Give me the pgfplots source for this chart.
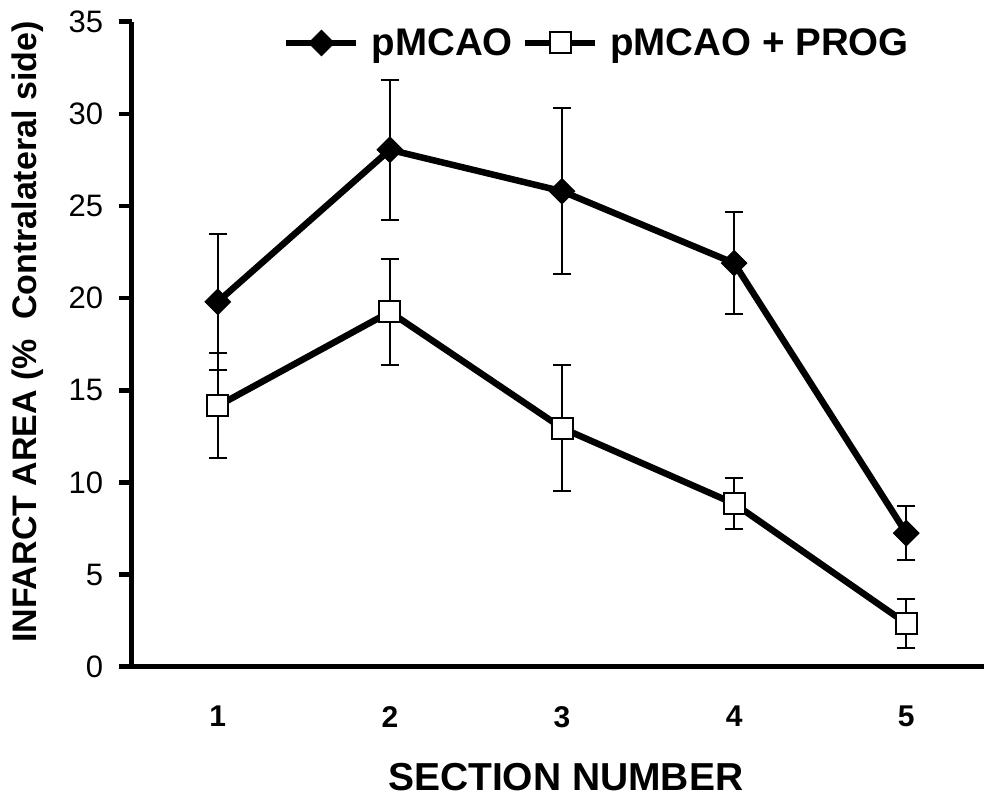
\documentclass[border=0pt]{standalone}
\usepackage{fontspec}
\setmainfont{Liberation Sans}
\usepackage{pgfplots}
\pgfplotsset{compat=1.18}
\newcommand\fs[1]{\fontsize{#1}{#1}\selectfont}
\begin{document}
\begin{tikzpicture}
\begin{axis}[
    at={(131.7bp,130.3bp)}, anchor=south west,
    scale only axis, width=852bp, height=645bp,
    xmin=0.5, xmax=5.45, ymin=0, ymax=35,
    clip=false,
    axis x line=bottom, axis y line=left,
    axis line style={-, line width=5.5bp},
    xtick={1,2,3,4,5}, ytick={0,5,...,35},
    x tick style={draw=none},
    y tick style={line width=4.5bp, black},
    tick align=outside, major tick length=13bp,
    /pgf/number format/assume math mode=true,
    yticklabel style={font=\fs{31bp}, xshift=-12bp},
    xticklabel style={font=\bfseries\fs{30bp}, yshift=-23bp},
    xlabel={SECTION NUMBER},
    xlabel style={font=\bfseries\fs{39bp}, at={([xshift=8bp,yshift=-124bp]rel axis cs:0.5,0)}, anchor=base},
    ylabel={INFARCT AREA (\%\ \ Contralateral side)},
    ylabel style={font=\bfseries\fs{34bp}, at={([xshift=-104bp,yshift=12bp]rel axis cs:0,0.5)}, anchor=center},
    legend style={draw=none, fill=none, at={(151.3bp,623.7bp)}, anchor=west,
        legend columns=-1, font=\bfseries\fs{38.5bp}, inner sep=0pt,
        nodes={inner sep=0bp},
        /tikz/every odd column/.append style={column sep=12bp},
        /tikz/every even column/.append style={column sep=9bp}},
    legend image code/.code={
        \draw[mark repeat=2, mark phase=2, #1] plot coordinates {(0bp,0bp) (35bp,0bp) (70bp,0bp)};},
    ]
% pMCAO
\addplot[black, line width=6.5bp, mark=square*, mark size=9bp,
    mark options={solid, rotate=45, line width=1bp, fill=black},
    error bars/.cd, y dir=both, y explicit,
    error bar style={line width=2bp},
    error mark options={rotate=90, mark size=9bp, line width=2bp}]
coordinates {
(1, 19.8) +- (0, 3.7)
(2, 28.05) +- (0, 3.8)
(3, 25.8) +- (0, 4.5)
(4, 21.9) +- (0, 2.75)
(5, 7.25) +- (0, 1.46)
};
% pMCAO + PROG
\addplot[black, line width=6.5bp, mark=square*, mark size=10.5bp,
    mark options={solid, line width=2bp, fill=white},
    error bars/.cd, y dir=both, y explicit,
    error bar style={line width=2bp},
    error mark options={rotate=90, mark size=9bp, line width=2bp}]
coordinates {
(1, 14.15) +- (0, 2.85)
(2, 19.25) +- (0, 2.9)
(3, 12.95) +- (0, 3.4)
(4, 8.85) +- (0, 1.4)
(5, 2.35) +- (0, 1.35)
};
\legend{pMCAO, pMCAO + PROG}
\end{axis}
\pgfresetboundingbox
\useasboundingbox (0,0) rectangle (984bp,797bp);
\end{tikzpicture}
\end{document}
